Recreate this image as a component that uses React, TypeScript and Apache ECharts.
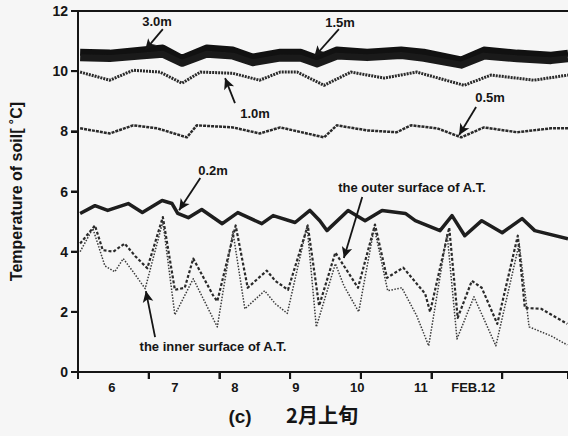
import React, { useEffect, useRef } from "react";
import * as echarts from "echarts";

// x: days of February (tick at each day boundary), y: soil temperature (°C)
const dayTicks = [6, 7, 8, 9, 10, 11, 12];
const dayLabelPos = [6.48, 7.37, 8.22, 9.08, 9.95, 10.85, 11.59];
const dayLabels = ["6", "7", "8", "9", "10", "11", "FEB.12"];
const tempTicks = [0, 2, 4, 6, 8, 10, 12];

// 3.0m and 1.5m
const tDeep = [6.03, 6.45, 6.88, 7.2, 7.47, 7.82, 8.19, 8.47, 8.86, 9.15, 9.38, 9.66, 10.09, 10.57, 10.89, 11.42, 11.74, 12.21, 12.69, 12.93];
const v30 = [10.63, 10.6, 10.7, 10.77, 10.43, 10.77, 10.7, 10.47, 10.63, 10.63, 10.43, 10.7, 10.63, 10.7, 10.63, 10.37, 10.7, 10.6, 10.53, 10.6];
const v15 = [10.45, 10.42, 10.5, 10.56, 10.26, 10.56, 10.5, 10.28, 10.44, 10.43, 10.24, 10.5, 10.45, 10.52, 10.43, 10.2, 10.5, 10.41, 10.35, 10.41];

// 1.0m
const t10 = [6.03, 6.45, 6.78, 7.16, 7.47, 7.73, 8.19, 8.57, 8.86, 9.1, 9.48, 9.86, 10.33, 10.79, 11.46, 11.84, 12.45, 12.93];
const v10 = [9.97, 9.7, 10.03, 9.97, 9.6, 9.97, 9.93, 9.7, 9.97, 9.97, 9.53, 9.97, 9.77, 9.97, 9.53, 9.87, 9.7, 9.87];

// 0.5m
const t05 = [6.03, 6.45, 6.78, 7.12, 7.54, 7.68, 8.19, 8.57, 8.86, 9.48, 9.66, 10.09, 10.51, 10.71, 11.08, 11.42, 11.74, 12.21, 12.69, 12.93];
const v05 = [8.1, 7.93, 8.2, 8.1, 7.8, 8.2, 8.13, 7.93, 8.13, 7.8, 8.2, 8.03, 7.97, 8.2, 8.1, 7.8, 8.13, 7.97, 8.1, 8.1];

// 0.2m
const t02 = [6.03, 6.24, 6.42, 6.71, 6.91, 7.19, 7.33, 7.41, 7.56, 7.75, 8.04, 8.26, 8.6, 8.76, 9.07, 9.28, 9.42, 9.52, 9.82, 10.06, 10.3, 10.63, 10.77, 11.12, 11.29, 11.47, 11.71, 12.0, 12.28, 12.46, 12.93];
const v02 = [5.27, 5.53, 5.37, 5.6, 5.3, 5.7, 5.6, 5.27, 5.13, 5.4, 4.93, 5.3, 4.93, 5.2, 4.97, 5.37, 5.03, 4.7, 5.37, 5.03, 5.37, 5.27, 5.03, 4.7, 5.2, 4.53, 5.03, 4.63, 5.1, 4.7, 4.43];

// the outer surface of A.T.
const tOut = [6.03, 6.24, 6.35, 6.5, 6.66, 6.81, 6.98, 7.2, 7.37, 7.51, 7.63, 7.91, 7.97, 8.23, 8.4, 8.67, 8.79, 8.97, 9.25, 9.41, 9.64, 9.96, 10.2, 10.37, 10.6, 10.91, 10.98, 11.25, 11.37, 11.57, 11.71, 11.93, 12.22, 12.32, 12.55, 12.92];
const vOut = [4.27, 4.87, 4.05, 4.0, 4.27, 3.85, 3.45, 5.15, 2.73, 2.8, 3.77, 2.55, 2.35, 4.87, 2.8, 3.37, 3.03, 2.73, 4.87, 2.2, 3.97, 2.8, 4.9, 3.13, 3.47, 2.6, 2.0, 4.8, 1.8, 3.03, 2.8, 1.6, 4.53, 2.13, 2.1, 1.6];

// the inner surface of A.T.
const tIn = [6.03, 6.21, 6.38, 6.52, 6.64, 6.78, 6.95, 7.2, 7.37, 7.63, 7.97, 8.19, 8.36, 8.64, 8.79, 8.96, 9.24, 9.37, 9.64, 9.76, 9.97, 10.19, 10.38, 10.58, 10.79, 10.96, 11.22, 11.36, 11.6, 11.91, 12.24, 12.38, 12.69, 12.92];
const vIn = [4.0, 4.77, 3.53, 3.33, 3.77, 3.33, 2.77, 5.0, 1.9, 3.1, 1.5, 4.67, 2.1, 2.7, 2.27, 1.95, 4.85, 1.5, 3.6, 2.87, 2.0, 4.8, 2.7, 2.8, 1.87, 0.87, 4.6, 1.1, 2.5, 0.87, 4.27, 1.5, 1.2, 0.9];

const zip = (t: number[], v: number[]) => t.map((x, i) => [x, v[i]]);

const FONT = "'Liberation Sans', Arial, Helvetica, sans-serif";
const INK = "#151515";
const TICK_LEN = 7;

export default function App() {
  const ref = useRef<HTMLDivElement>(null);
  useEffect(() => {
    if (!ref.current) return;
    const chart = echarts.init(ref.current, undefined, { renderer: "svg" });
    const arrowLines = [
      [{ coord: [7.2, 11.4] }, { coord: [6.95, 10.7] }],
      [{ coord: [9.69, 11.4] }, { coord: [9.34, 10.47] }],
      [{ coord: [8.22, 8.94] }, { coord: [8.08, 9.77] }],
      [{ coord: [11.63, 8.81] }, { coord: [11.39, 7.88] }],
      [{ coord: [7.73, 6.45] }, { coord: [7.43, 5.38] }],
      [{ coord: [10.02, 5.82] }, { coord: [9.76, 3.79] }],
      [{ coord: [7.09, 1.16] }, { coord: [6.96, 2.69] }],
    ];
    const line = (name: string, data: number[][], width: number, type: any, color: string, z = 2) => ({
      name,
      type: "line",
      data,
      showSymbol: false,
      symbol: "none",
      z,
      lineStyle: { color, width, type, cap: "butt", join: "round" },
      silent: true,
    });
    const s30: any = line("3.0m", zip(tDeep, v30), 7, "solid", "#111", 3);
    s30.markLine = {
      silent: true,
      symbol: ["none", "arrow"],
      symbolSize: [8, 11],
      label: { show: false },
      lineStyle: { color: INK, width: 1.8, type: "solid" },
      data: arrowLines,
    };
    const labelText = (text: string, x: number, y: number) => ({
      type: "text",
      x,
      y,
      style: {
        text,
        fill: INK,
        font: `bold 13px ${FONT}`,
        textAlign: "center",
        textVerticalAlign: "middle",
      },
    });
    const hiddenSplit = { show: true, lineStyle: { color: "rgba(0,0,0,0)", width: 0 } };
    const baseGraphic: any[] = [
      labelText("3.0m", 157, 21),
      labelText("1.5m", 340, 22),
      labelText("1.0m", 255, 113),
      labelText("0.5m", 490, 97),
      labelText("0.2m", 213, 170),
      labelText("the outer surface of A.T.", 412, 187),
      labelText("the inner surface of A.T.", 213, 346),
      {
        type: "text",
        x: 240,
        y: 416,
        style: { text: "(c)", fill: INK, font: `bold 19px ${FONT}`, textAlign: "center", textVerticalAlign: "middle" },
      },
      {
        type: "text",
        x: 322,
        y: 414,
        style: { text: "2月上旬", fill: INK, font: `bold 20px 'Noto Sans CJK JP', sans-serif`, textAlign: "center", textVerticalAlign: "middle" },
      },
    ];
    chart.setOption({
      animation: false,
      backgroundColor: "#f6f6f6",
      grid: { left: 78, top: 11, right: 0, bottom: 64 },
      xAxis: [
        {
          type: "value",
          min: 6,
          max: 12.93,
          interval: 1,
          splitLine: hiddenSplit,
          axisLine: { show: true, lineStyle: { color: INK, width: 2 } },
          axisTick: { show: true, length: TICK_LEN, lineStyle: { color: INK, width: 2 } },
          axisLabel: { show: false },
        },
        {
          type: "value",
          min: 6,
          max: 12.93,
          position: "bottom",
          splitLine: { show: false },
          axisLine: { show: false },
          axisTick: { show: false },
          axisLabel: {
            show: true,
            customValues: dayLabelPos,
            formatter: (v: number) => {
              const i = dayLabelPos.findIndex((p) => Math.abs(p - v) < 1e-6);
              return i >= 0 ? dayLabels[i] : "";
            },
            color: INK,
            fontFamily: FONT,
            fontWeight: "bold",
            fontSize: 13,
            margin: 9,
          },
        },
        {
          type: "value",
          min: 6,
          max: 12.93,
          position: "top",
          splitLine: { show: false },
          axisLine: { show: true, lineStyle: { color: INK, width: 2 } },
          axisTick: { show: false },
          axisLabel: { show: false },
        },
      ],
      yAxis: {
        type: "value",
        min: 0,
        max: 12,
        interval: 2,
        splitLine: hiddenSplit,
        axisLine: { show: true, lineStyle: { color: INK, width: 2 } },
        axisTick: { show: true, length: TICK_LEN, lineStyle: { color: INK, width: 2 } },
        axisLabel: { color: INK, fontFamily: FONT, fontWeight: "bold", fontSize: 14, margin: 10 },
        name: "Temperature of soil[ ˚C]",
        nameLocation: "middle",
        nameRotate: 90,
        nameGap: 54,
        nameTextStyle: { color: INK, fontFamily: FONT, fontWeight: "bold", fontSize: 16 },
      },
      series: [
        s30,
        line("1.5m", zip(tDeep, v15), 7, "solid", "#1a1a1a", 3),
        line("1.0m", zip(t10, v10), 3, [2, 1], "#2a2a2a"),
        line("0.5m", zip(t05, v05), 2.5, [3, 1], "#2a2a2a"),
        line("0.2m", zip(t02, v02), 3.5, "solid", "#1e1e1e"),
        line("the outer surface of A.T.", zip(tOut, vOut), 2.2, [3, 2], "#2a2a2a"),
        line("the inner surface of A.T.", zip(tIn, vIn), 1.5, [1.5, 1.5], "#3a3a3a"),
      ],
      graphic: baseGraphic,
    });

    // Tick marks placed through the axes' own scales
    const x0 = chart.convertToPixel({ xAxisIndex: 0 }, 6) as number;
    const y0 = chart.convertToPixel({ yAxisIndex: 0 }, 0) as number;
    const tickStyle = { stroke: INK, lineWidth: 2 };
    const ticks: any[] = [];
    tempTicks.forEach((v) => {
      const py = chart.convertToPixel({ yAxisIndex: 0 }, v) as number;
      ticks.push({ type: "line", silent: true, z: 10, shape: { x1: x0 - TICK_LEN, y1: py, x2: x0, y2: py }, style: tickStyle });
    });
    dayTicks.forEach((d) => {
      const px = chart.convertToPixel({ xAxisIndex: 0 }, d) as number;
      ticks.push({ type: "line", silent: true, z: 10, shape: { x1: px, y1: y0, x2: px, y2: y0 + TICK_LEN }, style: tickStyle });
    });
    chart.setOption({ graphic: [...baseGraphic, ...ticks] });

    return () => chart.dispose();
  }, []);
  return <div ref={ref} style={{ position: "absolute", left: 0, top: 0, width: 568, height: 436 }} />;
}
